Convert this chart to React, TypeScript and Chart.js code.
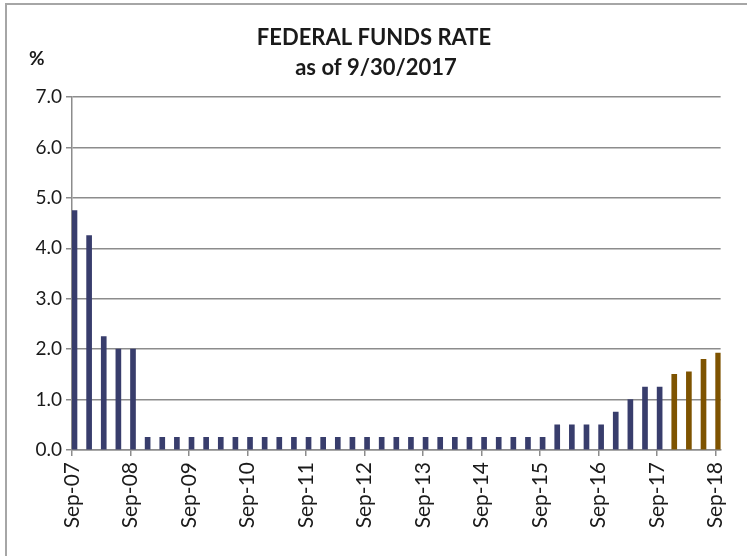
import React, { useEffect, useRef } from "react";
import { Chart, registerables } from "chart.js";

Chart.register(...registerables);

const categories = [
  "Sep-07", "Dec-07", "Mar-08", "Jun-08", "Sep-08", "Dec-08", "Mar-09", "Jun-09", "Sep-09",
  "Dec-09", "Mar-10", "Jun-10", "Sep-10", "Dec-10", "Mar-11", "Jun-11", "Sep-11",
  "Dec-11", "Mar-12", "Jun-12", "Sep-12", "Dec-12", "Mar-13", "Jun-13", "Sep-13",
  "Dec-13", "Mar-14", "Jun-14", "Sep-14", "Dec-14", "Mar-15", "Jun-15", "Sep-15",
  "Dec-15", "Mar-16", "Jun-16", "Sep-16", "Dec-16", "Mar-17", "Jun-17", "Sep-17",
  "Dec-17", "Mar-18", "Jun-18", "Sep-18",
];

const actualRates = [
  4.75, 4.25, 2.25, 2.0, 2.0,
  0.25, 0.25, 0.25, 0.25, 0.25, 0.25, 0.25, 0.25, 0.25, 0.25, 0.25, 0.25, 0.25, 0.25,
  0.25, 0.25, 0.25, 0.25, 0.25, 0.25, 0.25, 0.25, 0.25, 0.25, 0.25, 0.25, 0.25, 0.25,
  0.5, 0.5, 0.5, 0.5, 0.75, 1.0, 1.25, 1.25,
];

const projectedRates = [1.5, 1.55, 1.8, 1.92];

const xTickLabels = [
  "Sep-07", "Sep-08", "Sep-09", "Sep-10", "Sep-11", "Sep-12",
  "Sep-13", "Sep-14", "Sep-15", "Sep-16", "Sep-17", "Sep-18",
];

const yTicks = [0, 1, 2, 3, 4, 5, 6, 7];

const titleLines = ["FEDERAL FUNDS RATE", "as of 9/30/2017"];
const unitLabel = "%";

const BAR_SHIFT = 0.17;
const FONT = "Lato, 'Liberation Sans', sans-serif";

export default function App() {
  const ref = useRef<HTMLCanvasElement | null>(null);

  useEffect(() => {
    if (!ref.current) return;
    const actualData = actualRates.map((v, i) => ({ x: i + BAR_SHIFT, y: v }));
    const projData = projectedRates.map((v, j) => ({
      x: actualRates.length + j + BAR_SHIFT,
      y: v,
    }));

    const textPlugin = {
      id: "texts",
      afterDraw(chart: any) {
        const ctx = chart.ctx;
        ctx.save();
        ctx.fillStyle = "#1a1a1a";
        ctx.textAlign = "center";
        ctx.textBaseline = "middle";
        ctx.font = `bold 22px ${FONT}`;
        ctx.fillText(titleLines[0], 374, 38);
        ctx.fillText(titleLines[1], 376, 68);
        ctx.font = `bold 19px ${FONT}`;
        ctx.textAlign = "left";
        ctx.fillText(unitLabel, 29, 59);
        ctx.restore();
      },
    };

    const chart = new Chart(ref.current, {
      type: "bar",
      data: {
        datasets: [
          {
            label: "Actual",
            data: actualData as any,
            backgroundColor: "#383D6C",
            barThickness: 5,
            grouped: false,
          } as any,
          {
            label: "Projected",
            data: projData as any,
            backgroundColor: "#7E5300",
            barThickness: 5,
            grouped: false,
          } as any,
        ],
      },
      plugins: [textPlugin],
      options: {
        animation: false,
        responsive: false,
        maintainAspectRatio: false,
        layout: { padding: { left: 35, right: 19, top: 97, bottom: 0 } },
        plugins: {
          legend: { display: false },
          tooltip: { enabled: false },
          title: { display: false },
        },
        scales: {
          x: {
            type: "linear",
            offset: false,
            min: 0,
            max: categories.length - 1 + 0.34,
            afterBuildTicks: (s: any) => {
              s.ticks = xTickLabels.map((l) => ({ value: categories.indexOf(l) }));
            },
            afterFit: (s: any) => {
              s.height = 106;
            },
            ticks: {
              autoSkip: false,
              maxRotation: 90,
              minRotation: 90,
              padding: 6,
              color: "#1a1a1a",
              font: { family: FONT, size: 21 },
              callback: (v: any) => categories[Math.round(Number(v))],
            },
            grid: {
              offset: false,
              drawOnChartArea: false,
              drawTicks: true,
              tickLength: 6,
              color: "#8c8c8c",
              lineWidth: 1.5,
            },
            border: { display: true, color: "#8c8c8c", width: 1.5 },
          },
          y: {
            min: 0,
            max: 7,
            afterBuildTicks: (s: any) => {
              s.ticks = yTicks.map((v) => ({ value: v }));
            },
            afterFit: (s: any) => {
              s.width = 37;
            },
            ticks: {
              padding: 4,
              color: "#1a1a1a",
              font: { family: FONT, size: 19 },
              callback: (v: any) => Number(v).toFixed(1),
            },
            grid: {
              color: "#8c8c8c",
              lineWidth: 1.5,
              tickLength: 6,
            },
            border: { display: true, color: "#8c8c8c", width: 1.5 },
          },
        },
      },
    });
    return () => chart.destroy();
  }, []);

  return (
    <div style={{ position: "absolute", left: 0, top: 0, width: 747, height: 556, background: "#fff" }}>
      <div
        style={{
          position: "absolute",
          left: 5,
          top: 3,
          width: 742,
          height: 553,
          borderTop: "2px solid #a6a6a6",
          borderLeft: "2px solid #a6a6a6",
          boxSizing: "border-box",
        }}
      />
      <canvas ref={ref} width={747} height={556} style={{ position: "absolute", left: 0, top: 0 }} />
    </div>
  );
}
